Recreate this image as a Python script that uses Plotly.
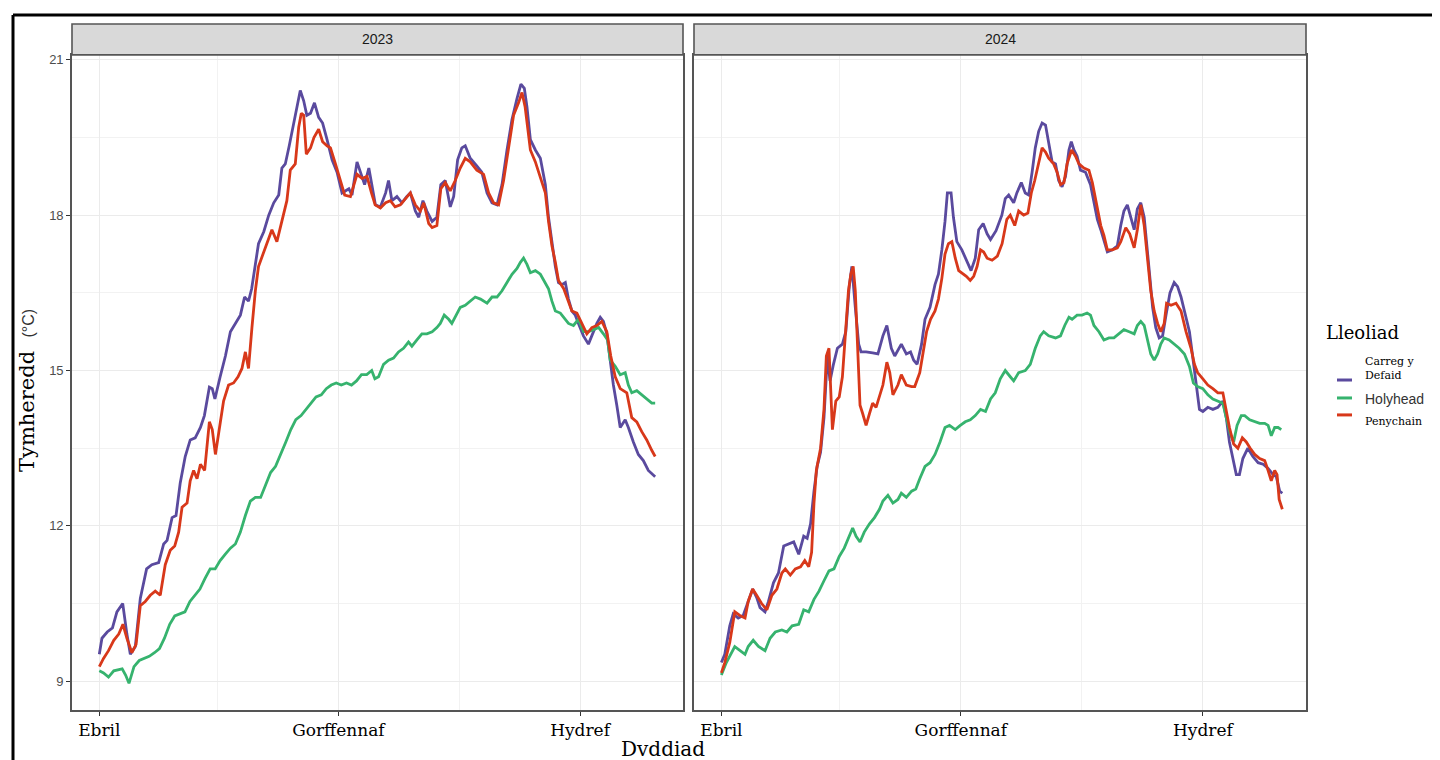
import numpy as np
import pandas as pd
import plotly.graph_objects as go

# The page body adds an 8px margin, so the figure is drawn 8px smaller and positions are offset
OFF = 8
W, H = 1440 - OFF, 760 - OFF

# ---------------- data (days since 1 April, temperature °C) ----------------
years = ["2023", "2024"]
series_names = ["Carreg y Defaid", "Holyhead", "Penychain"]
month_labels = ["Ebril", "Gorffennaf", "Hydref"]

cyd_2023_days = [0, 1, 3, 5, 6.7, 8.9, 10.5, 11.8, 13.7, 15.6, 18, 20, 22.6, 24.5, 25.8, 27.7, 29.2, 30.8, 32.7, 34.6,
                 36.5, 38.5, 40, 41.9, 43, 44, 46, 48, 49.9, 51.8, 53.7, 55.3, 56.8, 58, 59.4, 60.6, 62.6, 64.5, 66.4,
                 68.3, 69.5, 70.8, 72.3, 74, 75.3, 76.5, 77.8, 79, 80.4, 81.9, 83.5, 85, 86.7, 88.6, 90.5, 92.4, 95,
                 96.2, 98.1, 99.4, 101, 102.6, 103.8, 105.1, 107, 109, 110.1, 111.4, 113.3, 115.2, 117, 118.4, 120.3,
                 121.6, 123.2, 124.7, 126.7, 128.5, 130, 131.7, 133.6, 134.9, 136.4, 138, 139.3, 141.2, 143.7, 145.6,
                 147.6, 149.5, 151.4, 153.3, 155.2, 157.1, 159, 160.5, 161.8, 162.8, 164.1, 166, 167.9, 169.8, 171,
                 172.3, 173.6, 174.8, 176.1, 177.4, 178.6, 179.9, 181.2, 182.4, 184.3, 186.2, 187.5, 189.4, 190.7,
                 191.9, 193.2, 194.5, 195.7, 197, 198.3, 200.2, 201.4, 203.3, 205.2, 207.1, 209, 211.6]
cyd_2023_vals = [9.52, 9.83, 9.95, 10.03, 10.34, 10.5, 9.91, 9.52, 9.67, 10.6, 11.17, 11.25, 11.29, 11.65, 11.72, 12.16,
                 12.2, 12.83, 13.34, 13.66, 13.7, 13.9, 14.13, 14.68, 14.65, 14.45, 14.88, 15.28, 15.75, 15.9, 16.07,
                 16.42, 16.34, 16.58, 17.01, 17.45, 17.68, 18.0, 18.24, 18.39, 18.91, 18.99, 19.34, 19.78, 20.09,
                 20.41, 20.21, 19.93, 19.97, 20.17, 19.89, 19.78, 19.46, 19.07, 18.83, 18.43, 18.51, 18.39, 19.03,
                 18.83, 18.59, 18.91, 18.6, 18.2, 18.16, 18.43, 18.67, 18.28, 18.36, 18.24, 18.36, 18.43, 18.08, 17.96,
                 18.28, 18.08, 17.88, 17.96, 18.59, 18.67, 18.16, 18.36, 19.07, 19.3, 19.34, 19.1, 18.95, 18.83, 18.43,
                 18.24, 18.2, 18.59, 19.26, 19.85, 20.25, 20.53, 20.45, 20.09, 19.46, 19.26, 19.1, 18.59, 17.96,
                 17.49, 17.01, 16.7, 16.66, 16.7, 16.38, 16.15, 16.07, 15.91, 15.67, 15.51, 15.67, 15.91, 16.03,
                 15.95, 15.71, 15.16, 14.72, 14.33, 13.9, 14.05, 13.9, 13.62, 13.38, 13.26, 13.07, 12.95]

pen_2023_days = [0, 1.6, 3.5, 5.5, 7.4, 9, 10.5, 12.4, 14, 15.6, 17.5, 19.4, 21.3, 23.2, 25.1, 27, 28.7, 30.2, 31.5,
                 33.4, 34.6, 35.9, 37.2, 38.5, 40.1, 41.9, 43, 44.2, 45.4, 47.3, 49.2, 51.1, 52.8, 54.3, 55.6, 56.8,
                 58.1, 59.4, 60.6, 62.6, 64.2, 65.7, 67.6, 68.9, 70.2, 71.4, 72.7, 74.6, 75.9, 76.9, 77.8, 78.8, 80.4,
                 81.7, 83.5, 85, 86.7, 88, 89.9, 91.8, 93.4, 95.6, 98.1, 100, 101.9, 103.6, 105, 107, 109, 110.8,
                 112.6, 114.6, 116.5, 118.4, 120.3, 122.2, 123.5, 125.4, 126.7, 128.5, 130, 131.7, 133.6, 135.5,
                 137.4, 139.3, 141.2, 143.7, 146.3, 148.2, 150.1, 152, 153.9, 155.8, 157.7, 159.6, 160.9, 162.1,
                 164.1, 166, 167.9, 169.8, 171, 172.3, 173.6, 174.8, 176.8, 178.6, 179.9, 181.8, 183.7, 185.6, 187.5,
                 189.4, 191.3, 193.2, 194.7, 196.4, 198.3, 200.8, 202.7, 204.6, 206.5, 208.4, 210.3, 211.6]
pen_2023_vals = [9.28, 9.44, 9.59, 9.79, 9.91, 10.1, 9.83, 9.55, 9.71, 10.46, 10.54, 10.66, 10.74, 10.66, 11.25, 11.53,
                 11.61, 11.88, 12.36, 12.44, 12.87, 13.07, 12.91, 13.19, 13.07, 14.01, 13.86, 13.38, 13.78, 14.41,
                 14.72, 14.76, 14.88, 15.04, 15.36, 15.04, 15.83, 16.54, 17.01, 17.29, 17.49, 17.72, 17.49, 17.76,
                 18.0, 18.28, 18.87, 18.99, 19.7, 19.97, 19.93, 19.18, 19.3, 19.5, 19.66, 19.42, 19.34, 19.3, 18.99,
                 18.67, 18.39, 18.36, 18.79, 18.71, 18.75, 18.43, 18.2, 18.14, 18.24, 18.28, 18.16, 18.2, 18.32,
                 18.43, 18.2, 18.08, 18.24, 17.84, 17.76, 17.8, 18.51, 18.63, 18.47, 18.67, 18.91, 19.1, 19.03, 18.87,
                 18.79, 18.43, 18.24, 18.2, 18.67, 19.3, 19.93, 20.17, 20.37, 20.09, 19.26, 19.03, 18.75, 18.43,
                 17.88, 17.41, 17.09, 16.74, 16.58, 16.34, 16.15, 16.11, 15.91, 15.71, 15.83, 15.87, 15.95, 15.75,
                 15.28, 14.88, 14.65, 14.57, 14.09, 14.01, 13.82, 13.66, 13.46, 13.34]

hol_2023_days = [0, 1.6, 3.5, 5.5, 8.7, 10, 11.3, 13.2, 15.2, 17.1, 19, 21, 22.9, 24.8, 26.8, 28.7, 30.6, 32.6, 34.5,
                 36.4, 38.3, 40.2, 42.2, 44.1, 46, 47.9, 49.9, 51.8, 53.7, 55.6, 57.5, 59.4, 61.4, 63.3, 65.2, 67.1,
                 69.1, 71, 72.9, 74.8, 76.8, 78.7, 80.6, 82.5, 84.5, 86.4, 88.3, 90.2, 92.1, 94.1, 96, 97.9, 99.8,
                 101.8, 103.7, 104.9, 106.3, 108.2, 110.1, 112, 113.9, 115.8, 117.7, 119, 120.9, 122.8, 124.7, 126.7,
                 128.5, 129.8, 131.3, 133, 134.2, 136.1, 137.4, 139.3, 141.2, 143.1, 145.1, 147.6, 149.5, 151.4,
                 153.3, 155.2, 157.1, 159, 160.3, 161.5, 162.8, 164.1, 166, 167.9, 169.8, 171, 172.3, 173.6, 175.5,
                 176.8, 178.6, 180.5, 182.4, 184.3, 186.2, 188.1, 190.1, 191.9, 193.5, 194.5, 196.4, 198.3, 200.2,
                 201.4, 202.7, 204.6, 206.5, 208.4, 210.3, 211.6]
hol_2023_vals = [9.2, 9.16, 9.08, 9.2, 9.24, 9.12, 8.96, 9.28, 9.4, 9.44, 9.48, 9.55, 9.63, 9.83, 10.1, 10.26, 10.3,
                 10.34, 10.54, 10.66, 10.78, 10.98, 11.17, 11.17, 11.33, 11.45, 11.57, 11.65, 11.88, 12.2, 12.48,
                 12.55, 12.55, 12.79, 13.03, 13.15, 13.38, 13.62, 13.86, 14.05, 14.13, 14.25, 14.37, 14.49, 14.53,
                 14.65, 14.72, 14.76, 14.72, 14.76, 14.72, 14.8, 14.92, 14.92, 15.0, 14.84, 14.88, 15.12, 15.2, 15.24,
                 15.36, 15.43, 15.55, 15.47, 15.59, 15.71, 15.71, 15.75, 15.83, 15.91, 16.07, 15.99, 15.91, 16.11,
                 16.22, 16.26, 16.34, 16.42, 16.38, 16.3, 16.42, 16.42, 16.54, 16.7, 16.86, 16.97, 17.09, 17.17,
                 17.05, 16.89, 16.93, 16.86, 16.7, 16.58, 16.34, 16.15, 16.11, 16.03, 15.91, 15.87, 15.99, 15.75,
                 15.75, 15.79, 15.83, 15.71, 15.59, 15.2, 15.08, 14.92, 14.96, 14.72, 14.57, 14.61, 14.53, 14.45,
                 14.37, 14.37]

cyd_2024_days = [0, 1.3, 3.2, 4.5, 6.4, 8.3, 10.2, 11.9, 13.4, 14.7, 16.6, 17.9, 19.8, 21.7, 23.7, 25.6, 27.5, 29.4,
                 31.3, 32.6, 33.9, 35.2, 36.4, 37.7, 39, 40.3, 41.3, 42.6, 44.1, 46, 47.3, 48.6, 49.6, 50.9, 52.2,
                 53.1, 55, 57.5, 59.5, 61.4, 62.9, 64.6, 65.9, 68.4, 70.3, 71.9, 73.1, 74.4, 76.1, 77.4, 79.3, 81.2,
                 82.5, 83.8, 85, 85.9, 87.3, 88.2, 89.5, 91.4, 93.4, 94.9, 96.5, 97.8, 99.5, 101, 102.3, 104.4, 106.6,
                 107.9, 109.2, 111.1, 112.3, 114, 115.5, 116.8, 118.1, 119.3, 120.6, 121.9, 123.2, 124.4, 125.7, 127,
                 128.2, 129.5, 130.8, 132.1, 133, 134, 135.2, 136.5, 138.4, 140.3, 141.6, 142.9, 144.2, 145.4, 146.7,
                 148.6, 150.5, 151.8, 153, 154.3, 155.6, 156.9, 158.1, 159.4, 160.7, 162, 162.9, 163.9, 165.1, 166.4,
                 167.7, 169, 170.5, 172.1, 173.4, 174.7, 176, 177.9, 179.1, 180.4, 181.7, 183, 184.9, 186.8, 188.7,
                 190.6, 191.9, 193.1, 194.4, 195.7, 196.9, 198.2, 200.1, 202, 204, 205.9, 207.8, 209.7, 210.9, 212.2,
                 213.2]
cyd_2024_vals = [9.36, 9.52, 10.07, 10.3, 10.22, 10.27, 10.54, 10.78, 10.62, 10.42, 10.34, 10.54, 10.9, 11.09, 11.61,
                 11.65, 11.69, 11.45, 11.8, 11.76, 12.04, 12.67, 13.15, 13.42, 14.09, 15.28, 14.8, 15.12, 15.43, 15.51,
                 15.75, 16.62, 17.01, 16.22, 15.51, 15.36, 15.36, 15.34, 15.32, 15.67, 15.87, 15.43, 15.28, 15.51,
                 15.32, 15.36, 15.2, 15.12, 15.51, 15.99, 16.22, 16.66, 16.86, 17.33, 17.88, 18.43, 18.43, 17.96,
                 17.49, 17.33, 17.09, 16.93, 17.17, 17.72, 17.84, 17.64, 17.53, 17.7, 18.0, 18.32, 18.39, 18.24, 18.43,
                 18.63, 18.43, 18.39, 18.83, 19.3, 19.62, 19.78, 19.74, 19.42, 19.03, 18.99, 18.67, 18.55, 18.75,
                 19.26, 19.42, 19.26, 19.14, 18.87, 18.83, 18.59, 18.28, 17.92, 17.72, 17.49, 17.29, 17.33, 17.41,
                 17.8, 18.08, 18.2, 17.96, 17.72, 18.12, 18.24, 17.96, 17.33, 16.78, 16.22, 15.83, 15.63, 15.67, 16.07,
                 16.5, 16.7, 16.62, 16.42, 16.15, 15.75, 15.28, 14.8, 14.25, 14.21, 14.29, 14.25, 14.29, 14.41, 14.09,
                 13.62, 13.3, 12.99, 12.99, 13.3, 13.5, 13.34, 13.22, 13.19, 13.11, 12.99, 12.95, 12.67, 12.63]

pen_2024_days = [0, 1.3, 3.2, 5.1, 7, 9, 10.2, 11.9, 13.4, 15.3, 17.3, 19.2, 21.1, 23, 24.3, 26.2, 28.1, 30.1, 31.7,
                 33.2, 34.3, 35.2, 36.1, 37.7, 39, 39.9, 40.9, 41.6, 42.2, 43.5, 44.8, 46, 47.3, 48.3, 49.2, 50.1,
                 50.9, 51.8, 52.7, 53.7, 55, 56.3, 57.5, 58.8, 60.1, 61.4, 62.9, 64, 65.2, 67.1, 68.4, 70.3, 72.3,
                 73.5, 75.4, 76.7, 78, 79.5, 81.2, 82.5, 83.8, 85, 86.3, 87.6, 88.9, 90.2, 91.4, 93.1, 94.6, 95.9,
                 97.2, 98.5, 99.7, 101, 102.9, 104.9, 106.7, 108.5, 109.8, 111.5, 113, 114.9, 116.5, 117.8, 119.1,
                 120.6, 121.9, 123.2, 124.4, 126.3, 127.6, 128.9, 130.2, 131.4, 133.1, 134.6, 135.9, 137.8, 139.7,
                 141, 142.5, 144.2, 145.4, 146.7, 148.6, 150.5, 151.8, 153.7, 155.2, 156.9, 158.1, 159.4, 160.7, 162,
                 163.2, 164.5, 165.8, 167, 168.3, 169.2, 170.9, 172.8, 174.7, 176.6, 178.5, 179.8, 181, 183, 184.9,
                 186.8, 188.7, 190.6, 191.9, 193.1, 194.7, 196.3, 198, 199.5, 201, 202.7, 204.6, 206.5, 207.8, 209,
                 210.3, 211.2, 212, 213.2]
pen_2024_vals = [9.16, 9.36, 9.75, 10.34, 10.27, 10.22, 10.54, 10.78, 10.66, 10.5, 10.38, 10.66, 10.78, 11.09, 11.17,
                 11.05, 11.17, 11.21, 11.33, 11.21, 11.49, 12.44, 13.07, 13.5, 14.25, 15.28, 15.43, 14.65, 13.86,
                 14.41, 14.49, 14.88, 15.75, 16.54, 16.86, 17.01, 16.54, 15.43, 14.33, 14.17, 13.94, 14.17, 14.37,
                 14.29, 14.49, 14.72, 15.16, 14.96, 14.53, 14.72, 14.92, 14.72, 14.69, 14.69, 14.96, 15.36, 15.75,
                 15.99, 16.15, 16.38, 16.78, 17.25, 17.45, 17.49, 17.17, 16.93, 16.89, 16.82, 16.74, 16.82, 17.01,
                 17.33, 17.29, 17.17, 17.13, 17.21, 17.45, 17.92, 18.0, 17.8, 18.08, 18.0, 18.04, 18.43, 18.67, 18.99,
                 19.3, 19.22, 19.1, 18.99, 18.83, 18.59, 18.63, 18.99, 19.26, 19.14, 18.99, 18.91, 18.87, 18.63,
                 18.24, 17.8, 17.61, 17.33, 17.33, 17.37, 17.49, 17.76, 17.64, 17.37, 17.72, 18.2, 17.8, 17.17, 16.54,
                 16.15, 15.91, 15.75, 15.91, 16.3, 16.26, 16.3, 16.15, 15.75, 15.43, 15.12, 14.96, 14.84, 14.72,
                 14.65, 14.57, 14.57, 14.25, 13.9, 13.58, 13.5, 13.7, 13.62, 13.5, 13.38, 13.3, 13.26, 13.07, 12.87,
                 13.07, 12.99, 12.51, 12.32]

hol_2024_days = [0, 1.9, 5.1, 7, 9, 10.2, 12.1, 14.1, 16.6, 18.5, 20.5, 23, 24.9, 26.9, 29.4, 31.3, 33.2, 35.2, 37.1,
                 39, 40.9, 42.8, 44.8, 46.7, 48.6, 49.9, 51.2, 52.7, 54.3, 56.3, 58.2, 60.1, 61.4, 63.3, 65.2, 67.1,
                 68.4, 70.3, 72.3, 73.9, 75.4, 77.4, 79.3, 81.2, 83.1, 85, 86.7, 88.9, 90.8, 92.7, 94.6, 96.5, 98.5,
                 100.4, 102.3, 104.1, 106, 107.9, 109.8, 111.1, 113, 115.5, 117.4, 119.3, 121.2, 122.5, 124.4, 127,
                 128.9, 130.5, 132.1, 133.3, 135.2, 137.1, 139, 140.3, 141.6, 143.5, 145.4, 147.3, 149.2, 151.1, 153,
                 155, 156.9, 158.1, 159.4, 160.7, 162, 163.2, 164.5, 165.8, 167, 168.3, 170.2, 172.1, 174, 176, 177.9,
                 179.4, 181, 183, 184.9, 186.8, 188.7, 190.6, 191.9, 193.4, 194.7, 196, 197.6, 198.9, 200.8, 202.7,
                 204.6, 206.5, 207.8, 209, 210.3, 211.6, 212.8]
hol_2024_vals = [9.12, 9.36, 9.67, 9.59, 9.52, 9.67, 9.79, 9.67, 9.59, 9.83, 9.95, 9.99, 9.95, 10.07, 10.1, 10.38,
                 10.34, 10.58, 10.74, 10.94, 11.13, 11.17, 11.41, 11.57, 11.8, 11.96, 11.8, 11.69, 11.88, 12.04,
                 12.16, 12.32, 12.48, 12.59, 12.44, 12.51, 12.63, 12.55, 12.67, 12.71, 12.91, 13.15, 13.22, 13.38,
                 13.62, 13.9, 13.94, 13.86, 13.94, 14.01, 14.05, 14.13, 14.25, 14.21, 14.45, 14.57, 14.84, 15.0,
                 14.88, 14.8, 14.96, 15.0, 15.12, 15.43, 15.67, 15.75, 15.67, 15.63, 15.67, 15.87, 16.03, 15.99,
                 16.07, 16.07, 16.11, 16.07, 15.87, 15.75, 15.59, 15.63, 15.63, 15.71, 15.79, 15.75, 15.71, 15.87,
                 15.95, 15.87, 15.59, 15.32, 15.2, 15.32, 15.51, 15.63, 15.59, 15.51, 15.43, 15.32, 15.08, 14.76,
                 14.69, 14.65, 14.53, 14.45, 14.41, 14.37, 14.09, 13.78, 13.62, 13.94, 14.13, 14.13, 14.05, 14.01,
                 13.98, 13.98, 13.94, 13.74, 13.9, 13.9, 13.86]

y_ticks = [9, 12, 15, 18, 21]
y_minor = [10.5, 13.5, 16.5, 19.5]

colors = {"Carreg y Defaid": "#5A4A9E", "Holyhead": "#36B36E", "Penychain": "#D8381A"}

data = {
    "2023": {"Carreg y Defaid": (cyd_2023_days, cyd_2023_vals),
             "Holyhead": (hol_2023_days, hol_2023_vals),
             "Penychain": (pen_2023_days, pen_2023_vals)},
    "2024": {"Carreg y Defaid": (cyd_2024_days, cyd_2024_vals),
             "Holyhead": (hol_2024_days, hol_2024_vals),
             "Penychain": (pen_2024_days, pen_2024_vals)},
}

# ---------------- helpers (screen pixel -> paper fraction) ----------------
def px(x):
    return (x - OFF) / W


def py(y):
    return 1 - (y - OFF) / H


def to_dates(year, days):
    return pd.Timestamp(f"{year}-04-01") + pd.to_timedelta(np.asarray(days, dtype=float), unit="D")


SERIF = "DejaVu Serif"
SANS = "Liberation Sans, Arial, sans-serif"

panels = {"2023": (72, 683), "2024": (694, 1306)}
plot_top, plot_bottom = 53, 710
strip_top = 22

fig = go.Figure()

for i, yr in enumerate(years):
    xa = "x" if i == 0 else "x2"
    ya = "y" if i == 0 else "y2"
    for name in series_names:
        d, v = data[yr][name]
        fig.add_trace(go.Scatter(
            x=to_dates(yr, d), y=v, mode="lines", name=name,
            line=dict(color=colors[name], width=2.8),
            xaxis=xa, yaxis=ya, showlegend=False, hoverinfo="skip"))

# y range from pixel calibration (9 at y=681, 21 at y=58)
unit = (681 - 58) / 12.0
y_lo = 9 - (plot_bottom - 681) / unit
y_hi = 21 + (58 - plot_top) / unit

grid_major = "#EBEBEB"
grid_minor = "#F2F2F2"
border = "#555555"

layout_axes = {}
for i, yr in enumerate(years):
    x0, x1 = panels[yr]
    start = pd.Timestamp(f"{yr}-04-01")
    rng = [start - pd.Timedelta(days=10.4), start + pd.Timedelta(days=222.2)]
    major = [pd.Timestamp(f"{yr}-04-01"), pd.Timestamp(f"{yr}-07-01"), pd.Timestamp(f"{yr}-10-01")]
    minor = [pd.Timestamp(f"{yr}-05-16"), pd.Timestamp(f"{yr}-08-16")]
    key = "xaxis" if i == 0 else "xaxis2"
    layout_axes[key] = dict(
        domain=[px(x0), px(x1)], type="date", range=rng,
        tickvals=major, ticktext=month_labels,
        tickfont=dict(family=SERIF, size=17, color="#000000"),
        ticks="outside", ticklen=4, tickwidth=1.2, tickcolor="#333333",
        showgrid=True, gridcolor=grid_major, gridwidth=1.4,
        minor=dict(tickvals=minor, showgrid=True, gridcolor=grid_minor, gridwidth=1, ticks=""),
        showline=True, linecolor=border, linewidth=1.6, mirror=True,
        zeroline=False, anchor="y" if i == 0 else "y2",
    )
    ykey = "yaxis" if i == 0 else "yaxis2"
    ycfg = dict(
        domain=[py(plot_bottom), py(plot_top)], range=[y_lo, y_hi],
        tickvals=y_ticks, ticktext=[str(t) for t in y_ticks],
        showgrid=True, gridcolor=grid_major, gridwidth=1.4,
        minor=dict(tickvals=y_minor, showgrid=True, gridcolor=grid_minor, gridwidth=1, ticks=""),
        showline=True, linecolor=border, linewidth=1.6, mirror=True,
        zeroline=False, anchor="x" if i == 0 else "x2",
    )
    if i == 0:
        ycfg.update(ticks="outside", ticklen=4, tickwidth=1.2, tickcolor="#333333",
                    tickfont=dict(family=SANS, size=13, color="#4D4D4D"))
    else:
        ycfg.update(matches="y", showticklabels=False, ticks="")
    layout_axes[ykey] = ycfg

shapes = []
annotations = []

# facet strips
for yr in years:
    x0, x1 = panels[yr]
    shapes.append(dict(type="rect", xref="paper", yref="paper",
                       x0=px(x0), x1=px(x1), y0=py(plot_top), y1=py(strip_top),
                       fillcolor="#D9D9D9", line=dict(color=border, width=1.6), layer="above"))
    annotations.append(dict(text=yr, xref="paper", yref="paper",
                            x=px((x0 + x1) / 2), y=py((plot_top + strip_top) / 2),
                            xanchor="center", yanchor="middle", showarrow=False,
                            font=dict(family=SANS, size=14, color="#1A1A1A")))

# outer black frame (top and left)
shapes.append(dict(type="line", xref="paper", yref="paper", x0=px(13), x1=1.0, y0=py(13), y1=py(13),
                   line=dict(color="#000000", width=3)))
shapes.append(dict(type="line", xref="paper", yref="paper", x0=px(13), x1=px(13), y0=py(13), y1=0.0,
                   line=dict(color="#000000", width=3)))

# axis titles
annotations.append(dict(text="Dvddiad", xref="paper", yref="paper", x=px(663), y=py(735),
                        xanchor="center", yanchor="top", showarrow=False,
                        font=dict(family=SERIF, size=20, color="#000000")))
annotations.append(dict(
    text='Tymheredd  <span style="font-family:Liberation Sans;font-size:16px;color:#333333">(°C)</span>',
    xref="paper", yref="paper", x=px(27), y=py(390), xanchor="center", yanchor="middle",
    textangle=-90, showarrow=False, font=dict(family=SERIF, size=21, color="#000000")))

# legend (drawn manually to mirror the reference's mixed typography)
annotations.append(dict(text="Lleoliad", xref="paper", yref="paper", x=px(1324), y=py(331),
                        xanchor="left", yanchor="middle", showarrow=False,
                        font=dict(family=SERIF, size=18, color="#000000")))
legend_rows = [
    ("Carreg y Defaid", 379, "Carreg y<br>Defaid", 367, dict(family=SERIF, size=11, color="#000000")),
    ("Holyhead", 397, "Holyhead", 398, dict(family=SANS, size=14, color="#333333")),
    ("Penychain", 414, "Penychain", 421, dict(family=SERIF, size=11, color="#000000")),
]
for name, ky, label, ty, fnt in legend_rows:
    shapes.append(dict(type="line", xref="paper", yref="paper", x0=px(1337), x1=px(1352), y0=py(ky), y1=py(ky),
                       line=dict(color=colors[name], width=3)))
    annotations.append(dict(text=label, xref="paper", yref="paper", x=px(1363), y=py(ty),
                            xanchor="left", yanchor="middle", align="left", showarrow=False, font=fnt))

fig.update_layout(
    width=W, height=H, autosize=False,
    margin=dict(l=0, r=0, t=0, b=0),
    paper_bgcolor="#FFFFFF", plot_bgcolor="#FFFFFF",
    showlegend=False, shapes=shapes, annotations=annotations,
    **layout_axes,
)

fig.write_html("out.html")
